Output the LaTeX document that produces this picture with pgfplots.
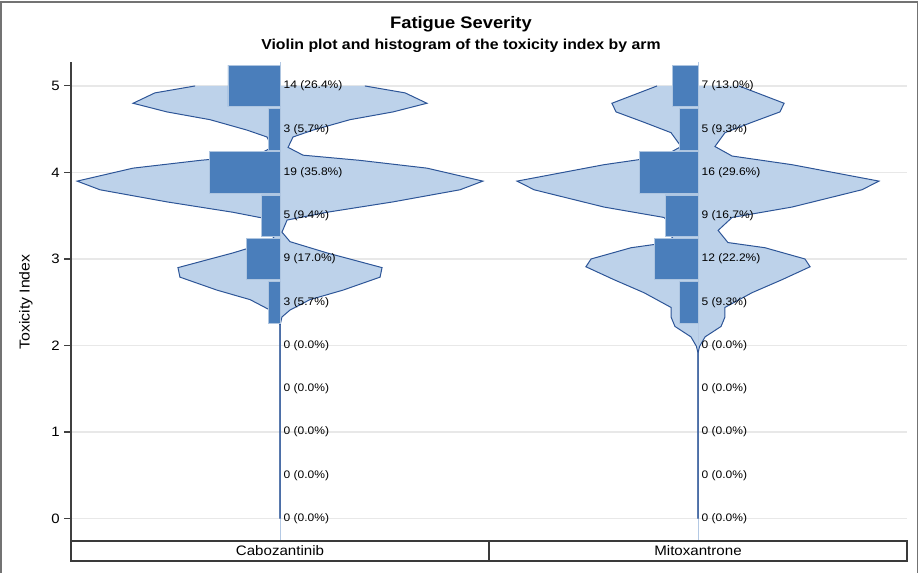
\documentclass[border=0pt]{standalone}
\usepackage{fontspec}
\setmainfont{Liberation Sans}[FakeStretch=1.1]
\usepackage{pgfplots}
\usepackage{pgfplotstable}
\pgfplotsset{compat=1.18}

\definecolor{barblue}{HTML}{4A7EBB}
\definecolor{violinfill}{HTML}{BDD2EA}
\definecolor{violinline}{HTML}{2D5597}
\definecolor{gridgray}{HTML}{E8E8E8}
\definecolor{centerblue}{HTML}{B4C9E4}
\definecolor{stripline}{HTML}{3A3A3A}

% violin half-widths (same units as the percent bars)
\pgfplotstableread{
y hw
5.00 43.1
4.92 63.5
4.80 74.6
4.70 57.4
4.61 35.5
4.49 16.8
4.41 6.6
4.29 4.1
4.20 11.7
4.14 40.6
4.05 74.6
3.90 103.0
3.80 91.4
3.66 57.4
3.54 23.9
3.45 3.6
3.31 1.0
3.20 5.1
3.07 23.9
2.90 51.8
2.79 50.8
2.64 32.0
2.53 15.2
2.41 5.1
2.33 1.0
2.24 0.1
0.00 0.1
}\cabovio

\pgfplotstableread{
y hw
5.00 20.8
4.80 43.7
4.70 41.6
4.58 27.4
4.46 13.7
4.30 8.6
4.19 17.3
4.09 47.7
3.90 91.9
3.80 83.2
3.60 47.7
3.48 17.3
3.33 10.2
3.19 15.2
3.13 34.0
3.00 54.3
2.91 56.9
2.76 42.6
2.61 27.4
2.44 13.7
2.33 13.7
2.22 11.7
2.10 3.6
1.99 0.8
1.92 0.1
0.00 0.1
}\mitovio

% histogram bins: percent and label
\pgfplotstableread{
y pct lab
5.0 26.4 {14 (26.4\%)}
4.5 5.7 {3 (5.7\%)}
4.0 35.8 {19 (35.8\%)}
3.5 9.4 {5 (9.4\%)}
3.0 17.0 {9 (17.0\%)}
2.5 5.7 {3 (5.7\%)}
2.0 0 {0 (0.0\%)}
1.5 0 {0 (0.0\%)}
1.0 0 {0 (0.0\%)}
0.5 0 {0 (0.0\%)}
0.0 0 {0 (0.0\%)}
}\cabobins

\pgfplotstableread{
y pct lab
5.0 13.0 {7 (13.0\%)}
4.5 9.3 {5 (9.3\%)}
4.0 29.6 {16 (29.6\%)}
3.5 16.7 {9 (16.7\%)}
3.0 22.2 {12 (22.2\%)}
2.5 9.3 {5 (9.3\%)}
2.0 0 {0 (0.0\%)}
1.5 0 {0 (0.0\%)}
1.0 0 {0 (0.0\%)}
0.5 0 {0 (0.0\%)}
0.0 0 {0 (0.0\%)}
}\mitobins

\pgfplotsset{
  panel/.style={
    anchor=south west,
    width=313.5pt, height=359.25pt, scale only axis,
    xmin=-106.1, xmax=106.1, ymin=-0.26, ymax=5.277,
    axis x line=none, axis y line*=left,
    xtick=\empty, ytick={0,1,2,3,4,5},
    ymajorgrids, major grid style={gridgray, line width=0.9pt},
    tick align=outside, major tick length=5pt,
    y axis line style={black!75, line width=0.8pt},
    ytick style={black!75, line width=0.8pt},
    yticklabel style={font=\fontsize{10.2}{12}\selectfont,
      /pgf/number format/assume math mode=true},
  },
}

\newcommand{\panel}[2]{%
  % violin: right and left halves filled towards the centre line
  \addplot[fill=violinfill, draw=none] table[x=hw, y=y] {#1}
    -- (axis cs:0,0) -- (axis cs:0,5) -- cycle;
  \addplot[fill=violinfill, draw=none] table[x expr=-\thisrow{hw}, y=y] {#1}
    -- (axis cs:0,0) -- (axis cs:0,5) -- cycle;
  \addplot[centerblue, line width=0.6pt] coordinates {(0,-0.26) (0,5.277)};
  \addplot[violinline, line width=0.75pt] table[x=hw, y=y] {#1};
  \addplot[violinline, line width=0.75pt] table[x expr=-\thisrow{hw}, y=y] {#1};
  % histogram bars, drawn to the left of the centre
  \addplot[xbar, bar width=0.48, bar shift=0pt, fill=barblue,
    draw=white!55!barblue, line width=0.5pt,
    restrict x to domain=-200:-0.001]
    table[x expr=-\thisrow{pct}, y=y] {#2};
  \addplot[draw=none, nodes near coords, point meta=explicit symbolic,
    every node near coord/.append style={anchor=west, inner sep=2.5pt,
      font=\fontsize{8.2}{9}\selectfont, text=black}]
    table[x expr=0, y=y, meta=lab] {#2};
}

\begin{document}
\begin{tikzpicture}
  \useasboundingbox (0,0) rectangle (690pt,-429.75pt);
  \draw[black!55, line width=0.9pt]
    (0.75pt,-429.75pt) -- (0.75pt,-1.5pt) -- (688pt,-1.5pt) -- (688pt,-429.75pt);

  \node[font=\bfseries\fontsize{12.5}{14}\selectfont] at (345.7pt,-18.5pt) {Fatigue Severity};
  \node[font=\bfseries\fontsize{10.8}{12}\selectfont] at (345.7pt,-34.5pt)
    {Violin plot and histogram of the toxicity index by arm};

  \begin{axis}[panel, at={(53.25pt,-405.75pt)}]
    \panel{\cabovio}{\cabobins}
  \end{axis}

  \begin{axis}[panel, at={(366.75pt,-405.75pt)},
      y axis line style={draw=none}, ytick style={draw=none}, yticklabels={}]
    \panel{\mitovio}{\mitobins}
  \end{axis}

  \node[rotate=90, font=\fontsize{10.8}{12}\selectfont] at (19.5pt,-226.5pt) {Toxicity Index};

  \draw[stripline, line width=1.1pt] (53.25pt,-405.75pt) rectangle (680.25pt,-420.75pt);
  \draw[stripline, line width=1.1pt] (366.75pt,-405.75pt) -- (366.75pt,-420.75pt);
  \node[font=\fontsize{10.3}{12}\selectfont] at (210pt,-413.25pt) {Cabozantinib};
  \node[font=\fontsize{10.3}{12}\selectfont] at (523.5pt,-413.25pt) {Mitoxantrone};
\end{tikzpicture}
\end{document}
